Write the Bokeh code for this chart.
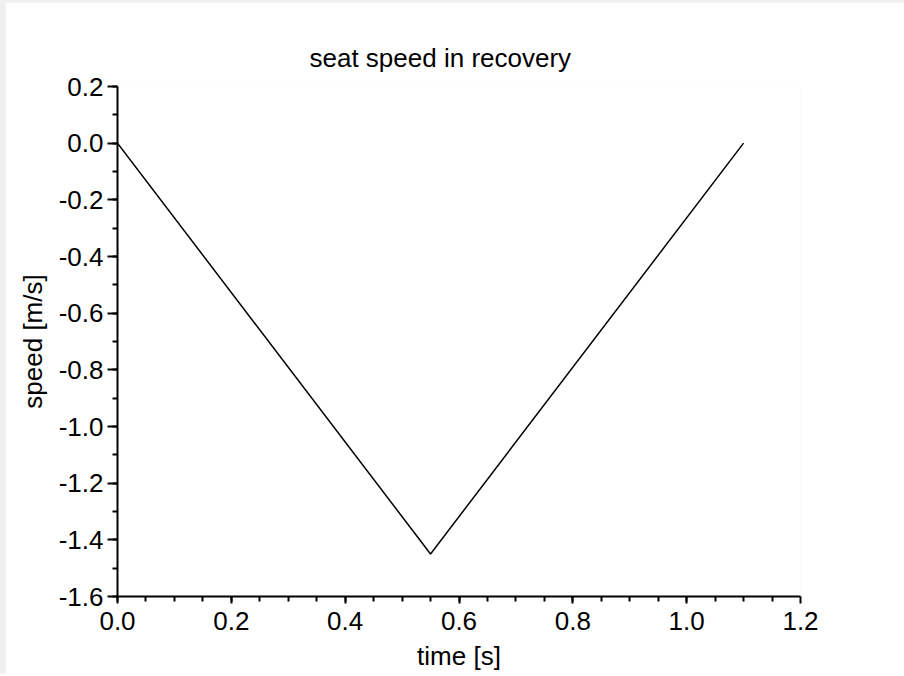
from bokeh.plotting import figure
from bokeh.layouts import column
from bokeh.models import FixedTicker, Title
from bokeh.embed import file_html
from bokeh.resources import INLINE

# data
time_s = [0.0, 0.55, 1.1]
speed_ms = [0.0, -1.45, 0.0]
x_ticks = [0.0, 0.2, 0.4, 0.6, 0.8, 1.0, 1.2]
x_tick_labels = ["0.0", "0.2", "0.4", "0.6", "0.8", "1.0", "1.2"]
x_minor = [i * 0.05 for i in range(25)]
y_ticks = [-1.6, -1.4, -1.2, -1.0, -0.8, -0.6, -0.4, -0.2, 0.0, 0.2]
y_tick_labels = ["-1.6", "-1.4", "-1.2", "-1.0", "-0.8", "-0.6", "-0.4", "-0.2", "0.0", "0.2"]
y_minor = [-1.6 + i * 0.1 for i in range(19)]

FONT = "Liberation Sans"
FS = "26px"

p = figure(frame_width=683, frame_height=510,
           x_range=(0, 1.2), y_range=(-1.6, 0.2),
           output_backend="svg", toolbar_location=None,
           min_border_left=112, min_border_right=104,
           min_border_top=84, min_border_bottom=78,
           background_fill_color="white", border_fill_color="white",
           margin=(2, 0, 0, 5))
p.outline_line_color = None
p.grid.visible = False

t = Title(text="seat speed in recovery", align="left", offset=192,
          text_font=FONT, text_font_size=FS, text_font_style="normal",
          text_color="black", standoff=27)
p.add_layout(t, "above")

p.line(time_s, speed_ms, line_color="black", line_width=1.5)

for ax in (p.xaxis[0], p.yaxis[0]):
    ax.axis_line_width = 2
    ax.axis_line_color = "black"
    ax.major_tick_line_width = 2
    ax.minor_tick_line_width = 2
    ax.major_tick_line_color = "black"
    ax.minor_tick_line_color = "black"
    ax.major_tick_in = 0
    ax.minor_tick_in = 0
    ax.major_label_text_font = FONT
    ax.major_label_text_font_size = FS
    ax.major_label_text_color = "black"
    ax.axis_label_text_font = FONT
    ax.axis_label_text_font_size = FS
    ax.axis_label_text_font_style = "normal"
    ax.axis_label_text_color = "black"

p.xaxis[0].ticker = FixedTicker(ticks=x_ticks, minor_ticks=x_minor)
p.yaxis[0].ticker = FixedTicker(ticks=y_ticks, minor_ticks=y_minor)
p.xaxis[0].major_label_overrides = {v: s for v, s in zip(x_ticks, x_tick_labels)}
p.yaxis[0].major_label_overrides = {v: s for v, s in zip(y_ticks, y_tick_labels)}
p.xaxis[0].major_tick_out = 7
p.xaxis[0].minor_tick_out = 5
p.yaxis[0].major_tick_out = 10
p.yaxis[0].minor_tick_out = 5
p.xaxis[0].major_label_standoff = 8
p.yaxis[0].major_label_standoff = 4
p.xaxis[0].axis_label = "time [s]"
p.yaxis[0].axis_label = "speed [m/s]"
p.xaxis[0].axis_label_standoff = 8
p.yaxis[0].axis_label_standoff = 8

layout = column(p, background="#f0f0f0")
open("out.html", "w").write(file_html(layout, INLINE))
